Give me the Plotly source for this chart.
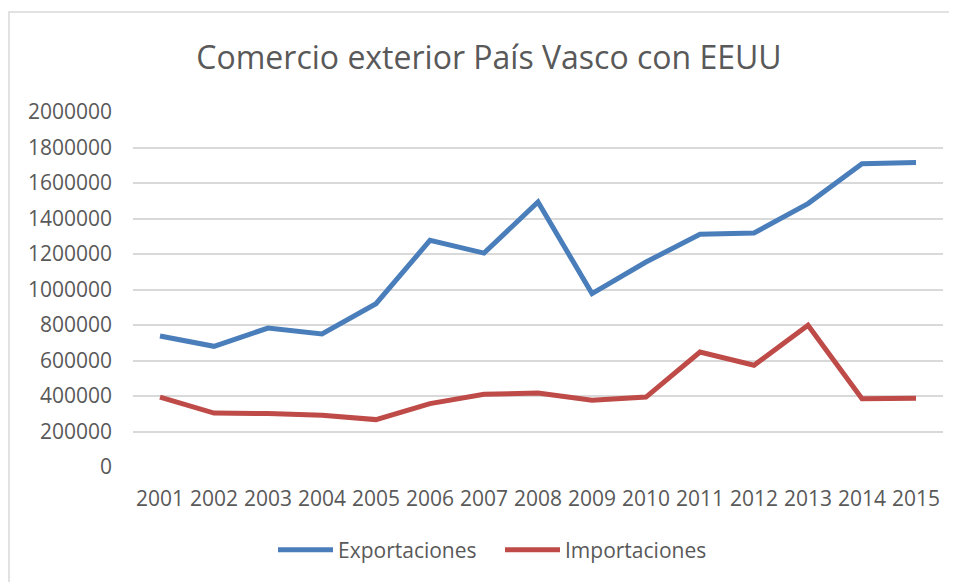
import plotly.graph_objects as go

years = ["2001", "2002", "2003", "2004", "2005", "2006", "2007", "2008",
         "2009", "2010", "2011", "2012", "2013", "2014", "2015"]
exportaciones = [738000, 680000, 783000, 749000, 920000, 1277000, 1205000, 1493000,
                 977000, 1155000, 1311000, 1318000, 1484000, 1709000, 1715000]
importaciones = [394000, 304000, 301000, 291000, 267000, 357000, 410000, 417000,
                 376000, 394000, 648000, 573000, 798000, 385000, 388000]
y_ticks = [0, 200000, 400000, 600000, 800000, 1000000, 1200000, 1400000,
           1600000, 1800000, 2000000]

# page has an 8px body margin; work in reference pixel coords minus 8
OFF = 8
W, H = 957 - OFF, 582 - OFF
L, T = 133 - OFF, 112 - OFF
R = W - (943 - OFF)
B = H - (467 - OFF)
PW, PH = W - L - R, H - T - B


def px_to_paper_x(px):
    return (px - OFF - L) / PW


def py_to_paper_y(py):
    return ((H - B) - (py - OFF)) / PH


fig = go.Figure()
fig.add_trace(go.Scatter(x=years, y=exportaciones, mode="lines", name="Exportaciones",
                         line=dict(color="#4A7EBB", width=5), legend="legend"))
fig.add_trace(go.Scatter(x=years, y=importaciones, mode="lines", name="Importaciones",
                         line=dict(color="#BE4B48", width=5), legend="legend2"))

legend_common = dict(orientation="h", xanchor="left", yanchor="middle",
                     font=dict(size=21, color="#595959"), itemwidth=55,
                     bgcolor="rgba(0,0,0,0)")

fig.update_layout(
    width=W, height=H,
    margin=dict(l=L, r=R, t=T, b=B),
    paper_bgcolor="white", plot_bgcolor="white",
    font=dict(family="Open Sans", color="#595959", size=21),
    title=dict(text="Comercio exterior País Vasco con EEUU", x=(489 - OFF) / W,
               xanchor="center", y=1 - (58 - OFF) / H, yanchor="middle",
               font=dict(family="Open Sans", size=32, color="#595959")),
    xaxis=dict(type="category", showgrid=False, showline=False, ticks="",
               tickfont=dict(size=21, color="#595959"), ticklabelstandoff=17,
               range=[-0.5, 14.5]),
    yaxis=dict(range=[0, 2000000], tickvals=y_ticks, ticktext=[str(v) for v in y_ticks],
               showgrid=True, gridcolor="#D9D9D9", gridwidth=1.5, zeroline=False,
               showline=False, ticks="", tickfont=dict(size=21, color="#595959"),
               ticklabelstandoff=20),
    legend=dict(legend_common, x=px_to_paper_x(273), y=py_to_paper_y(550)),
    legend2=dict(legend_common, x=px_to_paper_x(500), y=py_to_paper_y(550)),
    showlegend=True,
)

# chart outer border (Excel chart area)
fig.add_shape(type="rect", xref="paper", yref="paper",
              x0=px_to_paper_x(9), x1=px_to_paper_x(970),
              y0=py_to_paper_y(600), y1=py_to_paper_y(12),
              line=dict(color="#D9D9D9", width=1.5), fillcolor="rgba(0,0,0,0)", layer="below")

fig.write_html("out.html")
